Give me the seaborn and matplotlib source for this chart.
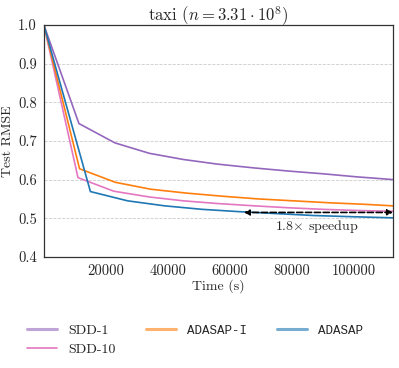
import numpy as np
import pandas as pd
import matplotlib
matplotlib.use("Agg")
import matplotlib.pyplot as plt
import seaborn as sns
from matplotlib.lines import Line2D

# ---- data ----
sdd1_t = [0, 11300, 22900, 34000, 45000, 56000, 68000, 79000, 90000, 101000, 112600]
sdd1_v = [1.0, 0.745, 0.695, 0.668, 0.652, 0.640, 0.630, 0.622, 0.615, 0.607, 0.600]
sdd10_t = [0, 11000, 22500, 34000, 45000, 56000, 68000, 79000, 90000, 101000, 112600]
sdd10_v = [1.0, 0.605, 0.570, 0.555, 0.545, 0.538, 0.532, 0.527, 0.523, 0.520, 0.518]
adai_t = [0, 11500, 23000, 34500, 46000, 57500, 69000, 80500, 92000, 103500, 112600]
adai_v = [1.0, 0.628, 0.593, 0.575, 0.565, 0.557, 0.550, 0.545, 0.540, 0.536, 0.532]
ada_t = [0, 15000, 27000, 39000, 51000, 63000, 75000, 87000, 99000, 112600]
ada_v = [1.0, 0.569, 0.545, 0.532, 0.523, 0.517, 0.512, 0.507, 0.504, 0.501]

series_names = ["SDD-1", "SDD-10", "ADASAP-I", "ADASAP"]
series_colors = ["#9467bd", "#e377c2", "#ff7f0e", "#1f77b4"]
arrow_start, arrow_end, arrow_y = 64500, 112600, 0.515
speedup_label = r"1.8$\times$ speedup"
title = r"taxi ($n = 3.31 \cdot 10^8$)"
xtick_vals = [20000, 40000, 60000, 80000, 100000]
ytick_vals = [0.4, 0.5, 0.6, 0.7, 0.8, 0.9, 1.0]

frames = []
for name, t, v in zip(series_names, [sdd1_t, sdd10_t, adai_t, ada_t],
                      [sdd1_v, sdd10_v, adai_v, ada_v]):
    frames.append(pd.DataFrame({"Time": t, "RMSE": v, "method": name}))
df = pd.concat(frames, ignore_index=True)

sns.set_style("white")
plt.rcParams["font.family"] = ["cmr10", "DejaVu Serif"]
plt.rcParams["mathtext.fontset"] = "cm"
plt.rcParams["axes.formatter.use_mathtext"] = True

fig = plt.figure(figsize=(3.99, 3.68), dpi=100)
ax = fig.add_axes([0.110, 0.302, 0.875, 0.630])

palette = dict(zip(series_names, series_colors))
sns.lineplot(data=df, x="Time", y="RMSE", hue="method", palette=palette,
             hue_order=series_names, ax=ax, linewidth=1.2, legend=False,
             estimator=None, sort=False)

ax.set_xlim(0, 112600)
ax.set_ylim(0.4, 1.0)
ax.set_xticks(xtick_vals)
ax.set_xticklabels([str(v) for v in xtick_vals])
ax.set_yticks(ytick_vals)
ax.set_yticklabels([f"{v:.1f}" for v in ytick_vals])
ax.tick_params(labelsize=10.5, length=3, direction="out", color="#333333", pad=2)
ax.yaxis.grid(True, linestyle="--", color="#cccccc", linewidth=0.6)
ax.xaxis.grid(False)
for s in ax.spines.values():
    s.set_color("#333333")
    s.set_linewidth(0.9)

ax.set_xlabel("Time (s)", fontsize=10, labelpad=1)
ax.set_ylabel("Test RMSE", fontsize=10, labelpad=3)
ax.set_title(title, fontsize=12, pad=3)

ax.annotate("", xy=(arrow_start, arrow_y), xytext=(arrow_end, arrow_y),
            arrowprops=dict(arrowstyle="<|-|>", linestyle="--", color="black",
                            lw=1.2, mutation_scale=8, shrinkA=0, shrinkB=0))
ax.text((arrow_start + arrow_end) / 2 - 500, arrow_y - 0.037, speedup_label,
        ha="center", va="center", fontsize=10)

handles = [
    Line2D([], [], color=series_colors[0], lw=2.2, alpha=0.6),
    Line2D([], [], color=series_colors[1], lw=1.2),
    Line2D([], [], color=series_colors[2], lw=2.2, alpha=0.6),
    Line2D([], [], color=series_colors[3], lw=2.2, alpha=0.6),
]
leg = fig.legend(handles, series_names, loc="upper left", ncol=3,
                 bbox_to_anchor=(27 / 399, 0.118), frameon=False, fontsize=10,
                 handlelength=2.15, columnspacing=2.2, labelspacing=0.45,
                 handletextpad=0.8, borderpad=0, borderaxespad=0)
for txt in leg.get_texts():
    if txt.get_text().startswith("ADASAP"):
        txt.set_family(["Liberation Mono", "DejaVu Sans Mono"])
        txt.set_fontsize(9)

fig.savefig("out.png", dpi=100)
